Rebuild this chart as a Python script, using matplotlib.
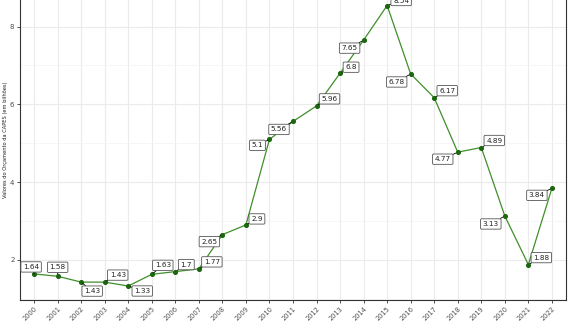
import matplotlib
matplotlib.use("Agg")
import matplotlib.pyplot as plt

# Orçamento da CAPES (bilhões)
anos = [str(a) for a in range(2000, 2023)]
valores = [1.64, 1.58, 1.43, 1.43, 1.33, 1.63, 1.70, 1.77, 2.65, 2.90, 5.10,
           5.56, 5.96, 6.80, 7.65, 8.54, 6.78, 6.17, 4.77, 4.89, 3.13, 1.88, 3.84]
rotulos = ["1.64", "1.58", "1.43", "1.43", "1.33", "1.63", "1.7", "1.77", "2.65",
           "2.9", "5.1", "5.56", "5.96", "6.8", "7.65", "8.54", "6.78", "6.17",
           "4.77", "4.89", "3.13", "1.88", "3.84"]

# where the repelled labels ended up (pixels from the point)
deslocamentos = [(-3, 7), (0, 9), (11, -9), (13, 7), (14, -5), (11, 9), (11, 7),
                 (13, 7), (-13, -7), (11, 6), (-12, -6), (-14, -8), (13, 7),
                 (11, 6), (-14, -8), (14, 5), (-14, -8), (13, 7), (-15, -7),
                 (13, 7), (-14, -8), (13, 7), (-15, -7)]

fig = plt.figure(figsize=(5.7, 3.21), dpi=100)
ax = fig.add_axes([20 / 570, 21 / 321, 546 / 570, 308.5 / 321])

x = list(range(len(anos)))
ax.plot(x, valores, color="#3f8f2a", lw=0.9, zorder=3)
ax.scatter(x, valores, color="#1d6610", s=7, zorder=4)

for xi, v, r, (dx, dy) in zip(x, valores, rotulos, deslocamentos):
    ax.annotate(r, (xi, v), xytext=(dx, dy), textcoords="offset pixels",
                ha="center", va="center", fontsize=5.2, color="#222222",
                bbox=dict(boxstyle="round,pad=0.3,rounding_size=0.15",
                          fc="white", ec="#555555", lw=0.6),
                arrowprops=dict(arrowstyle="-", color="black", lw=0.6,
                                shrinkA=0, shrinkB=1.5),
                zorder=5)

ax.set_xlim(-0.6, len(anos) - 0.4)
ax.set_ylim(0.97, 8.9)
ax.set_xticks(x)
ax.set_xticklabels(anos, rotation=45, ha="right", va="top",
                   rotation_mode="anchor", fontsize=4.8, color="#4d4d4d")
ax.set_yticks([2, 4, 6, 8])
ax.set_yticklabels(["2", "4", "6", "8"], fontsize=5, color="#4d4d4d")
ax.set_yticks([1, 3, 5, 7], minor=True)
ax.tick_params(axis="both", which="major", length=2.5, width=0.6, color="#333333", pad=1.5)
ax.tick_params(axis="y", which="minor", length=0)

ax.grid(True, which="major", color="#ebebeb", lw=0.8)
ax.grid(True, which="minor", axis="y", color="#f3f3f3", lw=0.5)
ax.set_axisbelow(True)

for s in ax.spines.values():
    s.set_color("#333333")
    s.set_linewidth(0.8)

ax.set_ylabel("Valores do Orçamento da CAPES (em bilhões)", fontsize=3.7,
              color="#222222")
ax.yaxis.set_label_coords(-0.022, 0.52)

fig.savefig("out.png", dpi=100)
